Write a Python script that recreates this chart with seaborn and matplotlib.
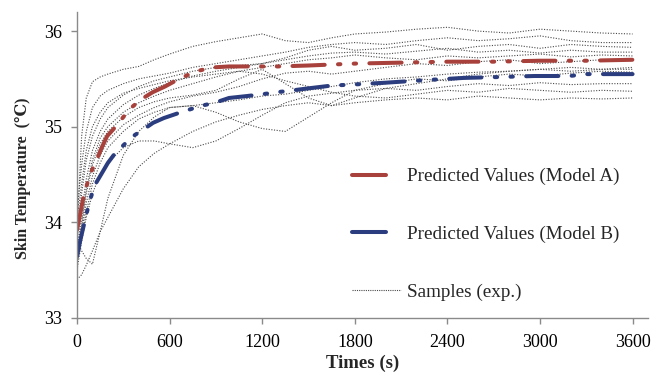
import numpy as np
import pandas as pd
import matplotlib
matplotlib.use("Agg")
import matplotlib.pyplot as plt
import seaborn as sns
from matplotlib.lines import Line2D
from matplotlib.legend_handler import HandlerLine2D

# ---------------- data ----------------
model_a_t = [0, 20, 40, 60, 90, 130, 160, 195, 245, 300, 360, 420, 490, 570, 650, 730, 800, 880,
             985, 1100, 1300, 1500, 1800, 2100, 2400, 2700, 3000, 3300, 3600]
model_a_v = [33.92, 34.08, 34.25, 34.37, 34.52, 34.66, 34.78, 34.90, 34.99, 35.10, 35.21, 35.29, 35.36,
             35.42, 35.49, 35.55, 35.59, 35.62, 35.63, 35.63, 35.63, 35.64, 35.66, 35.67, 35.68, 35.68,
             35.69, 35.69, 35.70]

model_b_t = [0, 20, 40, 65, 90, 116, 160, 200, 246, 304, 363, 430, 493, 563, 654, 731, 810, 893,
             985, 1100, 1204, 1294, 1398, 1495, 1650, 1780, 1890, 2000, 2190, 2290, 2400, 2505,
             2750, 2964, 3087, 3191, 3300, 3450, 3600]
model_b_v = [33.64, 33.80, 33.94, 34.11, 34.26, 34.39, 34.51, 34.62, 34.72, 34.81, 34.90, 34.97, 35.04,
             35.09, 35.14, 35.18, 35.22, 35.25, 35.30, 35.32, 35.34, 35.36, 35.38, 35.40, 35.43, 35.44,
             35.45, 35.46, 35.48, 35.49, 35.50, 35.51, 35.52, 35.53, 35.53, 35.53, 35.55, 35.55, 35.55]

sample_t = [0, 30, 60, 100, 150, 200, 300, 400, 500, 600, 750, 900, 1050, 1200, 1350, 1500, 1650,
            1800, 2000, 2200, 2400, 2600, 2800, 3000, 3200, 3400, 3600]
s1 = [33.90, 34.90, 35.30, 35.47, 35.52, 35.55, 35.60, 35.63, 35.70, 35.76, 35.84, 35.89, 35.93, 35.97,
      35.90, 35.88, 35.93, 35.97, 35.99, 36.02, 36.04, 36.00, 35.98, 36.02, 36.00, 35.98, 35.97]
s2 = [34.10, 34.60, 34.95, 35.20, 35.32, 35.38, 35.45, 35.50, 35.53, 35.56, 35.62, 35.66, 35.70, 35.74,
      35.78, 35.83, 35.86, 35.88, 35.86, 35.90, 35.93, 35.90, 35.92, 35.95, 35.90, 35.88, 35.88]
s3 = [33.80, 34.30, 34.65, 34.90, 35.08, 35.20, 35.33, 35.42, 35.48, 35.52, 35.58, 35.62, 35.64, 35.66,
      35.72, 35.80, 35.84, 35.80, 35.82, 35.86, 35.80, 35.84, 35.86, 35.82, 35.86, 35.84, 35.83]
s4 = [33.70, 34.10, 34.45, 34.75, 34.95, 35.08, 35.23, 35.33, 35.40, 35.46, 35.53, 35.58, 35.62, 35.66,
      35.70, 35.74, 35.77, 35.78, 35.76, 35.79, 35.82, 35.78, 35.80, 35.77, 35.80, 35.78, 35.78]
s5 = [33.60, 33.95, 34.30, 34.60, 34.82, 34.95, 35.10, 35.20, 35.26, 35.30, 35.33, 35.38, 35.50, 35.60,
      35.45, 35.30, 35.22, 35.30, 35.40, 35.45, 35.50, 35.55, 35.58, 35.60, 35.62, 35.60, 35.62]
s6 = [33.80, 33.70, 33.62, 33.56, 33.90, 34.25, 34.70, 34.95, 35.10, 35.20, 35.22, 35.15, 35.05, 34.98,
      34.95, 35.10, 35.25, 35.38, 35.45, 35.50, 35.48, 35.52, 35.55, 35.53, 35.56, 35.58, 35.57]
s7 = [33.50, 33.80, 34.05, 34.30, 34.50, 34.62, 34.78, 34.85, 34.85, 34.82, 34.78, 34.85, 34.98, 35.12,
      35.25, 35.32, 35.35, 35.38, 35.40, 35.38, 35.42, 35.45, 35.43, 35.46, 35.44, 35.45, 35.45]
s8 = [33.40, 33.45, 33.55, 33.70, 33.90, 34.05, 34.35, 34.58, 34.72, 34.82, 34.95, 35.05, 35.12, 35.18,
      35.22, 35.25, 35.22, 35.25, 35.28, 35.30, 35.28, 35.32, 35.30, 35.28, 35.30, 35.29, 35.30]
s9 = [33.60, 33.90, 34.20, 34.48, 34.70, 34.85, 35.02, 35.12, 35.20, 35.26, 35.32, 35.36, 35.42, 35.50,
      35.56, 35.58, 35.55, 35.58, 35.62, 35.66, 35.64, 35.68, 35.70, 35.66, 35.68, 35.70, 35.69]
s10 = [34.00, 34.40, 34.75, 35.00, 35.15, 35.25, 35.35, 35.40, 35.44, 35.48, 35.52, 35.55, 35.58, 35.62,
       35.66, 35.70, 35.72, 35.75, 35.72, 35.70, 35.74, 35.72, 35.74, 35.76, 35.73, 35.75, 35.74]
s11 = [33.70, 34.00, 34.35, 34.65, 34.88, 35.00, 35.15, 35.25, 35.32, 35.38, 35.45, 35.52, 35.58, 35.55,
       35.48, 35.42, 35.36, 35.32, 35.30, 35.34, 35.38, 35.36, 35.40, 35.38, 35.36, 35.38, 35.37]
s12 = [33.55, 33.85, 34.10, 34.40, 34.62, 34.78, 34.95, 35.08, 35.15, 35.20, 35.22, 35.25, 35.28, 35.32,
       35.34, 35.38, 35.42, 35.46, 35.50, 35.52, 35.55, 35.57, 35.58, 35.60, 35.58, 35.60, 35.60]
samples = [s1, s2, s3, s4, s5, s6, s7, s8, s9, s10, s11, s12]

x_ticks = [0, 600, 1200, 1800, 2400, 3000, 3600]
y_ticks = [33, 34, 35, 36]
label_a = "Predicted Values (Model A)"
label_b = "Predicted Values (Model B)"
label_s = "Samples (exp.)"

# ---------------- style ----------------
sns.set_style("white")
serif = ["Liberation Serif", "DejaVu Serif"]
plt.rcParams["font.family"] = serif

RED = "#a8413b"
BLUE = "#2b3d7e"
SAMP = "#4a4a4a"
AXC = "#8a8a8a"

fig = plt.figure(figsize=(6.64, 3.75), dpi=100)
ax = fig.add_axes([77 / 664, 1 - 317.7 / 375, (648 - 77) / 664, (317.7 - 12) / 375])

rows = []
for i, s in enumerate(samples):
    for t, v in zip(sample_t, s):
        rows.append({"t": t, "v": v, "id": i})
df_s = pd.DataFrame(rows)
sns.lineplot(data=df_s, x="t", y="v", units="id", estimator=None, ax=ax,
             color=SAMP, linewidth=0.8, legend=False)
for ln in ax.get_lines():
    ln.set_linestyle((0, (1, 1.4)))

dash = (0, (8, 3.3, 0.6, 3.3, 0.6, 3.3))
n0 = len(ax.get_lines())
sns.lineplot(x=model_a_t, y=model_a_v, ax=ax, color=RED, linewidth=2.9, legend=False)
sns.lineplot(x=model_b_t, y=model_b_v, ax=ax, color=BLUE, linewidth=2.9, legend=False)
for ln in ax.get_lines()[n0:]:
    ln.set_linestyle(dash)
    ln.set_dash_capstyle("round")

ax.set_xlim(0, 3700)
ax.set_ylim(33, 36.2)
ax.set_xticks(x_ticks)
ax.set_yticks(y_ticks)
ax.set_xticklabels([str(v) for v in x_ticks], fontsize=13)
ax.set_yticklabels([str(v) for v in y_ticks], fontsize=13)
for sp in ["top", "right"]:
    ax.spines[sp].set_visible(False)
for sp in ["left", "bottom"]:
    ax.spines[sp].set_color(AXC)
    ax.spines[sp].set_linewidth(1.0)
ax.tick_params(axis="both", direction="out", length=4, width=1.0, color=AXC,
               labelcolor="black", bottom=True, left=True)
ax.tick_params(axis="x", pad=7.5)
ax.tick_params(axis="y", pad=6.5)

ax.set_xlabel("Times (s)", fontsize=13.5, fontweight="bold", labelpad=3)
ax.set_ylabel("Skin Temperature  (\u2103)", fontsize=11.5, fontweight="bold")
ax.yaxis.set_label_coords(-0.080, 0.457)


class ShortLine(HandlerLine2D):
    def __init__(self, frac=1.0, **kw):
        super().__init__(**kw)
        self.frac = frac

    def get_xdata(self, legend, xdescent, ydescent, width, height, fontsize):
        x0 = -xdescent
        xd = np.array([x0, x0 + width * self.frac])
        return xd, xd


h_a = Line2D([], [], color=RED, linewidth=2.9)
h_b = Line2D([], [], color=BLUE, linewidth=2.9)
h_s = Line2D([], [], color=SAMP, linewidth=0.8, linestyle=(0, (1, 1)))
leg = ax.legend([h_a, h_b, h_s], [label_a, label_b, label_s], loc="upper left",
                bbox_to_anchor=((352 - 77) / 571, 1 - (168 - 12) / 305.7),
                frameon=False, fontsize=13.8, handlelength=2.55, handletextpad=0.32,
                labelspacing=2.1, borderpad=0, borderaxespad=0,
                handler_map={h_a: ShortLine(0.7), h_b: ShortLine(0.7), h_s: ShortLine(1.0)})

fig.savefig("out.png", dpi=100)
